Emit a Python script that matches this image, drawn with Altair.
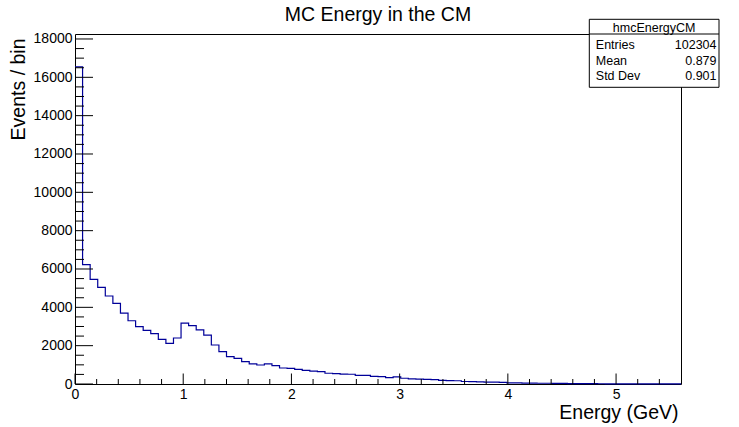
import altair as alt
import pandas as pd

# ---- data ----
bin_width = 0.07
counts = [
    16550, 6224, 5460, 5040, 4590, 4210, 3700, 3300, 2990, 2800,
    2625, 2330, 2120, 2400, 3180, 3045, 2820, 2555, 2035, 1690,
    1430, 1340, 1165, 1045, 990, 1045, 955, 835, 820, 765,
    710, 670, 650, 560, 545, 520, 510, 455, 445, 400,
    390, 330, 370, 300, 265, 250, 240, 230, 190, 180,
    170, 130, 120, 110, 100, 95, 85, 60, 55, 50,
    45, 40, 38, 32, 28, 24, 20, 18, 15, 12,
    10, 8, 7, 6, 5, 4, 3, 3, 2, 2,
]
x_max = 5.6
y_max = 18260
x_major = [0, 1, 2, 3, 4, 5]
x_minor = [0.2, 0.4, 0.6, 0.8, 1.2, 1.4, 1.6, 1.8, 2.2, 2.4, 2.6, 2.8,
           3.2, 3.4, 3.6, 3.8, 4.2, 4.4, 4.6, 4.8, 5.2, 5.4]
y_major = [0, 2000, 4000, 6000, 8000, 10000, 12000, 14000, 16000, 18000]
y_minor = [v for v in range(500, 18001, 500) if v % 2000 != 0]

title_text = "MC Energy in the CM"
x_title = "Energy (GeV)"
y_title = "Events / bin"
stats_name = "hmcEnergyCM"
stat_labels = ["Entries", "Mean", "Std Dev"]
stat_values = ["102304", "0.879", "0.901"]

FONT = "Liberation Sans"
W, H = 606, 350

edges = [i * bin_width for i in range(len(counts) + 1)]
hist = pd.DataFrame({"x": edges, "y": counts + [counts[-1]]})

xscale = alt.Scale(domain=[0, x_max], nice=False, zero=False)
yscale = alt.Scale(domain=[0, y_max], nice=False, zero=False)

x_axis = alt.Axis(values=x_major, format="d", ticks=False, domain=False, grid=False,
                  labelFont=FONT, labelFontSize=14, labelColor="black", labelPadding=3.5,
                  labelFlush=False, labelOverlap=False,
                  title=x_title, titleFont=FONT, titleFontSize=19.5, titleFontWeight="normal",
                  titleColor="black", titleX=603, titleY=34, titleAlign="right",
                  titleBaseline="alphabetic")
y_axis = alt.Axis(values=y_major, format="d", ticks=False, domain=False, grid=False,
                  labelFont=FONT, labelFontSize=14, labelColor="black", labelPadding=3,
                  labelFlush=False, labelOverlap=False,
                  title=y_title, titleFont=FONT, titleFontSize=19.5, titleFontWeight="normal",
                  titleColor="black", titleX=-51, titleY=4, titleAngle=270,
                  titleAlign="right", titleBaseline="alphabetic")

line = alt.Chart(hist).mark_line(interpolate="step-after", color="#000099",
                                 strokeWidth=1.2).encode(
    x=alt.X("x:Q", scale=xscale, axis=x_axis),
    y=alt.Y("y:Q", scale=yscale, axis=y_axis),
)

ymaj_df = pd.DataFrame({"y": y_major})
ymin_df = pd.DataFrame({"y": y_minor})
xmaj_df = pd.DataFrame({"x": x_major})
xmin_df = pd.DataFrame({"x": x_minor})

ytick_major = alt.Chart(ymaj_df).mark_rule(color="black", strokeWidth=1).encode(
    y=alt.Y("y:Q", scale=yscale, axis=y_axis), x=alt.value(0), x2=alt.value(18))
ytick_minor = alt.Chart(ymin_df).mark_rule(color="black", strokeWidth=1).encode(
    y=alt.Y("y:Q", scale=yscale, axis=y_axis), x=alt.value(0), x2=alt.value(9))
xtick_major = alt.Chart(xmaj_df).mark_rule(color="black", strokeWidth=1).encode(
    x=alt.X("x:Q", scale=xscale, axis=x_axis), y=alt.value(H), y2=alt.value(H - 10.5))
xtick_minor = alt.Chart(xmin_df).mark_rule(color="black", strokeWidth=1).encode(
    x=alt.X("x:Q", scale=xscale, axis=x_axis), y=alt.value(H), y2=alt.value(H - 5))

one = pd.DataFrame({"k": [0]})

title = alt.Chart(one).mark_text(font=FONT, fontSize=19.5, align="center",
                                 baseline="alphabetic", color="black").encode(
    x=alt.value(W / 2), y=alt.value(-13.5), text=alt.value(title_text))

box_l, box_r, box_t, box_b = 514.3, 644, -14.7, 53.3
stats_box = alt.Chart(one).mark_rect(fill="white", stroke="black", strokeWidth=1).encode(
    x=alt.value(box_l), x2=alt.value(box_r), y=alt.value(box_t), y2=alt.value(box_b))
stats_sep = alt.Chart(one).mark_rule(color="black", strokeWidth=1).encode(
    x=alt.value(box_l), x2=alt.value(box_r), y=alt.value(0))
stats_head = alt.Chart(one).mark_text(font=FONT, fontSize=12.5, align="center",
                                      baseline="alphabetic", color="black").encode(
    x=alt.value((box_l + box_r) / 2), y=alt.value(-2), text=alt.value(stats_name))

row_y = [15.3, 30.5, 46]
stat_layers = []
for lab, val, yy in zip(stat_labels, stat_values, row_y):
    stat_layers.append(alt.Chart(one).mark_text(font=FONT, fontSize=12.5, align="left",
                                                baseline="alphabetic", color="black").encode(
        x=alt.value(box_l + 6.5), y=alt.value(yy), text=alt.value(lab)))
    stat_layers.append(alt.Chart(one).mark_text(font=FONT, fontSize=12.5, align="right",
                                                baseline="alphabetic", color="black").encode(
        x=alt.value(box_r - 2.5), y=alt.value(yy), text=alt.value(val)))

chart = alt.layer(
    line, ytick_major, ytick_minor, xtick_major, xtick_minor,
    title, stats_box, stats_sep, stats_head, *stat_layers
).properties(
    width=W, height=H,
    autosize=alt.AutoSizeParams(type="none"),
    padding={"left": 75, "top": 34, "right": 58, "bottom": 43},
    background="white",
).configure_view(stroke="black", strokeWidth=1)

chart.save("out.html", embed_options={"renderer": "svg", "actions": False})
